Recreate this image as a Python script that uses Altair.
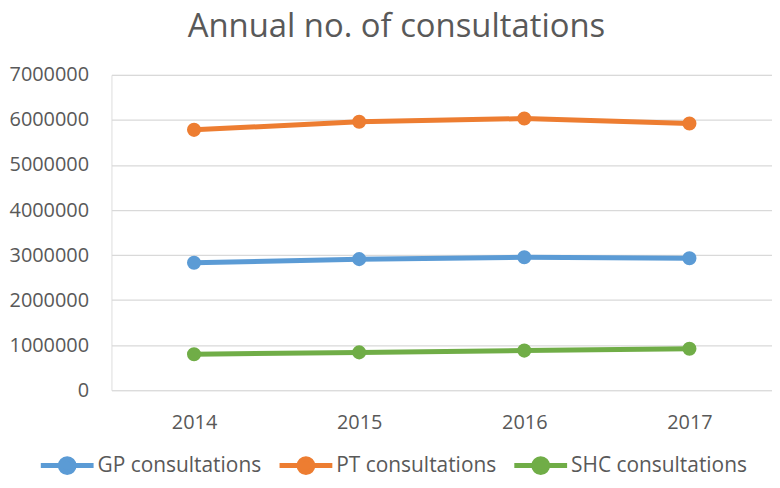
import altair as alt
import pandas as pd

years = ["2014", "2015", "2016", "2017"]
series_names = ["GP consultations", "PT consultations", "SHC consultations"]
gp = [2830000, 2910000, 2950000, 2930000]
pt = [5780000, 5960000, 6030000, 5920000]
shc = [800000, 840000, 880000, 920000]
colors = ["#5B9BD5", "#ED7D31", "#70AD47"]
y_ticks = [0, 1000000, 2000000, 3000000, 4000000, 5000000, 6000000, 7000000]

rows = []
for name, vals in zip(series_names, [gp, pt, shc]):
    for y, v in zip(years, vals):
        rows.append({"Year": y, "Series": name, "Value": v})
df = pd.DataFrame(rows)

font = "Open Sans"
txt = "#595959"
legend_path = "M -1.6 0 L 1.6 0 M -0.42 0 A 0.42 0.42 0 1 0 0.42 0 A 0.42 0.42 0 1 0 -0.42 0"

color = alt.Color(
    "Series:N",
    scale=alt.Scale(domain=series_names, range=colors),
    legend=alt.Legend(
        title=None, orient="none", direction="horizontal",
        legendX=-64, legendY=373,
        symbolType=legend_path, symbolSize=1100, symbolStrokeWidth=5,
        labelFontSize=21, labelColor=txt, labelFont=font, labelLimit=400,
        columnPadding=7, labelOffset=11,
    ),
)

x = alt.X("Year:O", sort=years,
          axis=alt.Axis(title=None, labelAngle=0, domain=False, ticks=False,
                        labelFontSize=20, labelColor=txt, labelFont=font,
                        labelPadding=22))
y = alt.Y("Value:Q",
          scale=alt.Scale(domain=[0, 7000000]),
          axis=alt.Axis(title=None, values=y_ticks,
                        format="d", domain=False, ticks=False, gridColor="#D9D9D9",
                        gridWidth=1.2,
                        labelFontSize=20, labelColor=txt, labelFont=font,
                        labelPadding=23))

base = alt.Chart(df)
lines = base.mark_line(strokeWidth=5).encode(x=x, y=y, color=color)
points = base.mark_point(filled=True, size=200, opacity=1).encode(x=x, y=y, color=color)

chart = (lines + points).properties(
    width=664, height=317,
    autosize=alt.AutoSizeParams(type="none"),
    padding={"left": 104, "top": 66, "right": 0, "bottom": 89},
    title=alt.Title("Annual no. of consultations", fontSize=33, font=font,
                    fontWeight="normal", color=txt, anchor="middle", frame="bounds",
                    offset=21, dx=6),
).configure_view(stroke=None).configure(background="white")

chart.save("out.html", embed_options={"renderer": "svg", "actions": False})
